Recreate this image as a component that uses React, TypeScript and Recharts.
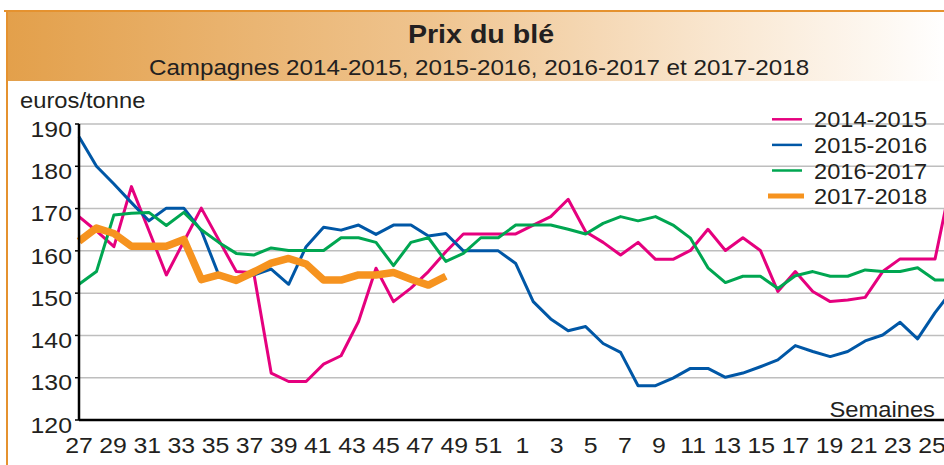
import { LineChart, Line, XAxis, YAxis, CartesianGrid } from 'recharts';

// semaines de campagne (juillet -> juin)
const WEEKS = [
  27, 28, 29, 30, 31, 32, 33, 34, 35, 36, 37, 38, 39, 40, 41, 42, 43, 44, 45, 46, 47, 48, 49, 50, 51, 52,
  1, 2, 3, 4, 5, 6, 7, 8, 9, 10, 11, 12, 13, 14, 15, 16, 17, 18, 19, 20, 21, 22, 23, 24, 25, 26,
];
const Y_TICKS = [120, 130, 140, 150, 160, 170, 180, 190];

// prix en euros/tonne, une valeur par semaine à partir de la semaine 27
const S_2014_2015 = [
  168.1, 164.7, 161.0, 175.2, 164.8, 154.3, 162.2, 170.1, 162.6, 155.1, 154.8, 131.1, 129.1, 129.1,
  133.2, 135.2, 143.3, 155.9, 148.0, 151.2, 155.1, 159.8, 164.0, 164.0, 164.0, 164.0, 166.1, 168.1,
  172.2, 164.5, 162.0, 159.0, 162.0, 158.0, 158.0, 160.1, 165.1, 160.1, 163.1, 160.1, 150.4, 155.1,
  150.4, 148.0, 148.4, 149.0, 155.1, 158.1, 158.1, 158.1, 178.0,
];
const S_2015_2016 = [
  187.0, 180.0, 175.8, 171.4, 167.1, 170.1, 170.1, 164.8, 154.3, 153.5, 154.3, 155.7, 152.1, 161.0,
  165.6, 164.9, 166.1, 163.9, 166.1, 166.1, 163.5, 164.1, 160.0, 160.0, 160.0, 157.0, 148.0, 143.9,
  141.1, 142.1, 138.1, 136.0, 128.1, 128.1, 129.9, 132.2, 132.2, 130.1, 131.1, 132.6, 134.2, 137.6,
  136.2, 135.0, 136.2, 138.7, 140.1, 143.1, 139.2, 145.4, 150.8,
];
const S_2016_2017 = [
  152.1, 155.1, 168.5, 168.9, 169.1, 166.0, 169.1, 165.0, 162.0, 159.4, 159.0, 160.7, 160.1, 160.1,
  160.1, 163.1, 163.1, 162.0, 156.5, 162.0, 163.1, 157.5, 159.4, 163.1, 163.1, 166.1, 166.1, 166.1,
  165.1, 164.0, 166.5, 168.1, 167.1, 168.1, 166.1, 163.0, 156.0, 152.5, 154.0, 154.0, 151.1, 154.1,
  155.1, 154.0, 154.0, 155.5, 155.1, 155.1, 156.0, 153.1, 153.1,
];
const S_2017_2018 = [
  162.3, 165.4, 164.1, 161.1, 161.1, 161.1, 162.7, 153.2, 154.3, 153.0, 155.0, 157.1, 158.2, 156.9,
  153.1, 153.1, 154.3, 154.3, 154.9, 153.3, 151.9, 154.0,
];

const PINK = '#E5007E';
const BLUE = '#0057A6';
const GREEN = '#00A651';
const ORANGE = '#F6931F';
const INK = '#231F20';
const FONT = '"Liberation Sans", Arial, Helvetica, sans-serif';

const SERIES = [
  { name: '2014-2015', values: S_2014_2015, color: PINK, width: 3 },
  { name: '2015-2016', values: S_2015_2016, color: BLUE, width: 3 },
  { name: '2016-2017', values: S_2016_2017, color: GREEN, width: 3 },
  { name: '2017-2018', values: S_2017_2018, color: ORANGE, width: 7.5 },
];

const toPoints = (vals: number[]) => vals.map((v, i) => ({ i, v }));
const ALL_IDX = WEEKS.map((_, i) => i);
const LABEL_IDX = ALL_IDX.filter((i) => i % 2 === 0 && i <= 50);

// les étiquettes de semaines sont un peu plus serrées que les points
const X_MAX = WEEKS.length - 1;
const LAB_MAX = 52.23;
const TICK_AXIS_H = 44;

function SText({ x, y, size, anchor = 'start', sx = 1.1, weight = 400, children }: any) {
  return (
    <text
      transform={`translate(${x},${y}) scale(${sx},1)`}
      fontSize={size}
      fontWeight={weight}
      textAnchor={anchor}
      fill={INK}
      fontFamily={FONT}
    >
      {children}
    </text>
  );
}

function PriceTick({ x, y, payload }: any) {
  return <SText x={x} y={y + 12.7} size={22} anchor="end" sx={1.13}>{payload.value}</SText>;
}

// l'axe des étiquettes est empilé sous l'axe des graduations : on remonte le texte
function WeekTick({ x, y, payload }: any) {
  return (
    <SText x={x} y={y - TICK_AXIS_H + 33.3} size={22} anchor="middle" sx={1.13}>
      {WEEKS[payload.value]}
    </SText>
  );
}

export default function App() {
  return (
    <div
      style={{
        position: 'absolute',
        left: 0,
        top: 0,
        width: 944,
        height: 465,
        overflow: 'hidden',
        background: '#fff',
      }}
    >
      {/* cadre + bandeau titre */}
      <div style={{ position: 'absolute', left: 8, top: 12, width: 940, height: 69, background: 'linear-gradient(90deg, #E3A04B 0%, #EFC48F 45%, #F9E6CF 75%, #FFFFFF 100%)' }} />
      <div style={{ position: 'absolute', left: 4, top: 10, width: 944, height: 2, background: '#E5922F' }} />
      <div style={{ position: 'absolute', left: 6, top: 10, width: 2, height: 460, background: '#E5922F' }} />

      <div style={{ position: 'absolute', left: 0, top: 0 }}>
        <LineChart width={975} height={465} margin={{ top: 124, right: 5, bottom: 0, left: 0 }}>
          <CartesianGrid xAxisId="a" horizontal vertical={false} stroke="#BEBEBE" strokeWidth={1.5} />
          <XAxis
            xAxisId="a"
            type="number"
            dataKey="i"
            domain={[0, X_MAX]}
            ticks={ALL_IDX}
            interval={0}
            height={TICK_AXIS_H}
            tick={false}
            tickSize={5}
            axisLine={{ stroke: '#000', strokeWidth: 2.5 }}
            tickLine={{ stroke: '#000', strokeWidth: 1.5 }}
          />
          <XAxis
            xAxisId="b"
            type="number"
            dataKey="i"
            domain={[0, LAB_MAX]}
            allowDataOverflow
            ticks={LABEL_IDX}
            interval={0}
            height={1}
            axisLine={false}
            tickLine={false}
            tickSize={0}
            tickMargin={0}
            tick={<WeekTick />}
          />
          <YAxis
            type="number"
            domain={[120, 190]}
            ticks={Y_TICKS}
            interval={0}
            width={79}
            tickSize={4}
            tickMargin={3}
            axisLine={{ stroke: '#000', strokeWidth: 2.5 }}
            tickLine={{ stroke: '#000', strokeWidth: 1.5 }}
            tick={<PriceTick />}
          />
          {/* support de l'axe des étiquettes : aucune valeur, rien n'est tracé */}
          <Line
            xAxisId="b"
            data={LABEL_IDX.map((i) => ({ i }))}
            dataKey="v"
            stroke="none"
            dot={false}
            activeDot={false}
            legendType="none"
            isAnimationActive={false}
          />
          {SERIES.map((s) => (
            <Line
              key={s.name}
              xAxisId="a"
              data={toPoints(s.values)}
              dataKey="v"
              name={s.name}
              type="linear"
              stroke={s.color}
              strokeWidth={s.width}
              strokeLinejoin="round"
              dot={false}
              activeDot={false}
              isAnimationActive={false}
            />
          ))}
        </LineChart>
      </div>

      {/* textes et légende */}
      <svg width={944} height={465} style={{ position: 'absolute', left: 0, top: 0, pointerEvents: 'none' }}>
        <SText x={481} y={43} size={26} weight={700} anchor="middle" sx={1.1}>Prix du blé</SText>
        <SText x={479} y={74.5} size={22} anchor="middle" sx={1.1}>
          Campagnes 2014-2015, 2015-2016, 2016-2017 et 2017-2018
        </SText>
        <SText x={20} y={108} size={22} sx={1.08}>euros/tonne</SText>
        <SText x={935} y={417} size={22} anchor="end" sx={1.08}>Semaines</SText>
        {SERIES.map((s, k) => {
          const cy = 119.3 + k * 25.6;
          const thick = s.width > 4;
          return (
            <g key={s.name}>
              <line
                x1={thick ? 768 : 772}
                x2={thick ? 804 : 802}
                y1={cy}
                y2={cy}
                stroke={s.color}
                strokeWidth={thick ? 5 : 2.5}
              />
              <SText x={814} y={cy + 8} size={22} sx={1.075}>{s.name}</SText>
            </g>
          );
        })}
      </svg>
    </div>
  );
}
